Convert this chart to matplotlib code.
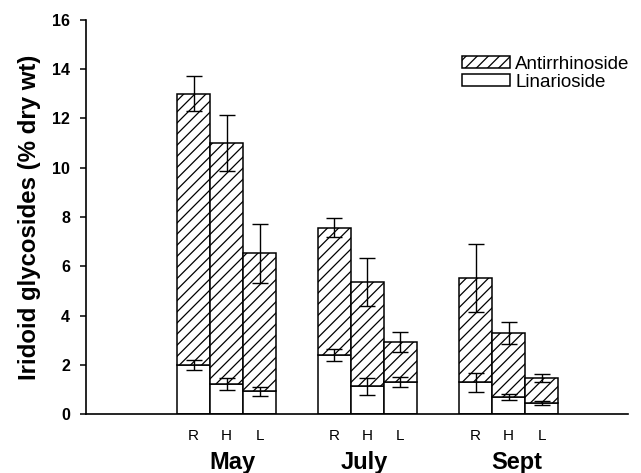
import matplotlib
matplotlib.use("Agg")
import matplotlib.pyplot as plt
import numpy as np
from matplotlib.patches import Patch

plt.rcParams['font.family'] = ['Liberation Sans', 'DejaVu Sans']
plt.rcParams['hatch.linewidth'] = 0.9

months = ["May", "July", "Sept"]
plants = ["R", "H", "L"]
# Linarioside (bottom segment) per month, per plant R/H/L
linarioside = [[2.0, 1.22, 0.92], [2.38, 1.12, 1.30], [1.28, 0.70, 0.45]]
linarioside_err = [[0.21, 0.25, 0.19], [0.24, 0.36, 0.19], [0.38, 0.13, 0.07]]
# Total (linarioside + antirrhinoside), i.e. top of stacked bar
total = [[13.0, 11.0, 6.53], [7.57, 5.37, 2.91], [5.52, 3.29, 1.46]]
total_err = [[0.71, 1.15, 1.19], [0.40, 0.98, 0.41], [1.37, 0.44, 0.17]]

group_pos = [0.0, 4.27, 8.55]
month_label_offset = [0.17, -0.1, 0.25]
bar_w = 1.0

fig = plt.figure(figsize=(6.41, 4.73), dpi=100)
ax = fig.add_axes([86/641, 1-414/473, (628-86)/641, (414-20)/473])

xs, xl = [], []
for g, gp in enumerate(group_pos):
    for p in range(3):
        x = gp + (p - 1) * bar_w
        xs.append(x); xl.append(plants[p])
        lin = linarioside[g][p]
        tot = total[g][p]
        ax.bar(x, lin, width=bar_w, color='white', edgecolor='black', linewidth=1.1, zorder=2)
        ax.bar(x, tot - lin, bottom=lin, width=bar_w, color='white', edgecolor='black',
               hatch='///', linewidth=1.1, zorder=2)
        ax.errorbar(x, tot, yerr=total_err[g][p], color='black', capsize=6, elinewidth=1.0,
                    capthick=1.0, zorder=3, fmt='none')
        ax.errorbar(x, lin, yerr=linarioside_err[g][p], color='black', capsize=6, elinewidth=1.0,
                    capthick=1.0, zorder=3, fmt='none')

ax.set_xlim((86-226.5)/33, (628-226.5)/33)
ax.set_ylim(0, 16)
ax.set_yticks(np.arange(0, 17, 2))
ax.set_yticklabels([str(v) for v in range(0, 17, 2)], fontsize=11.5, fontweight='bold')
ax.set_xticks(xs)
ax.set_xticklabels(xl, fontsize=11)
ax.tick_params(axis='x', length=0, pad=11)
ax.tick_params(axis='y', length=4.5, width=1.1, direction='out', pad=7)
for s in ['top', 'right']:
    ax.spines[s].set_visible(False)
for s in ['left', 'bottom']:
    ax.spines[s].set_linewidth(1.2)

ax.set_ylabel("Iridoid glycosides (% dry wt)", fontsize=17.3, fontweight='bold', labelpad=8)

trans = matplotlib.transforms.blended_transform_factory(ax.transData, fig.transFigure)
for m, gp, off in zip(months, group_pos, month_label_offset):
    fig.text(gp + off, 1-462/473, m, transform=trans, ha='center', va='center',
             fontsize=17, fontweight='bold')

handles = [Patch(facecolor='white', edgecolor='black', hatch='///', linewidth=1.1),
           Patch(facecolor='white', edgecolor='black', linewidth=1.1)]
fig.legend(handles, ["Antirrhinoside", "Linarioside"], loc='upper left',
           bbox_to_anchor=(462/641, 1-56/473), frameon=False, fontsize=13.5,
           handlelength=2.55, handleheight=0.6, handletextpad=0.3, labelspacing=0.05,
           borderpad=0, borderaxespad=0)

fig.savefig("out.png", dpi=100)
